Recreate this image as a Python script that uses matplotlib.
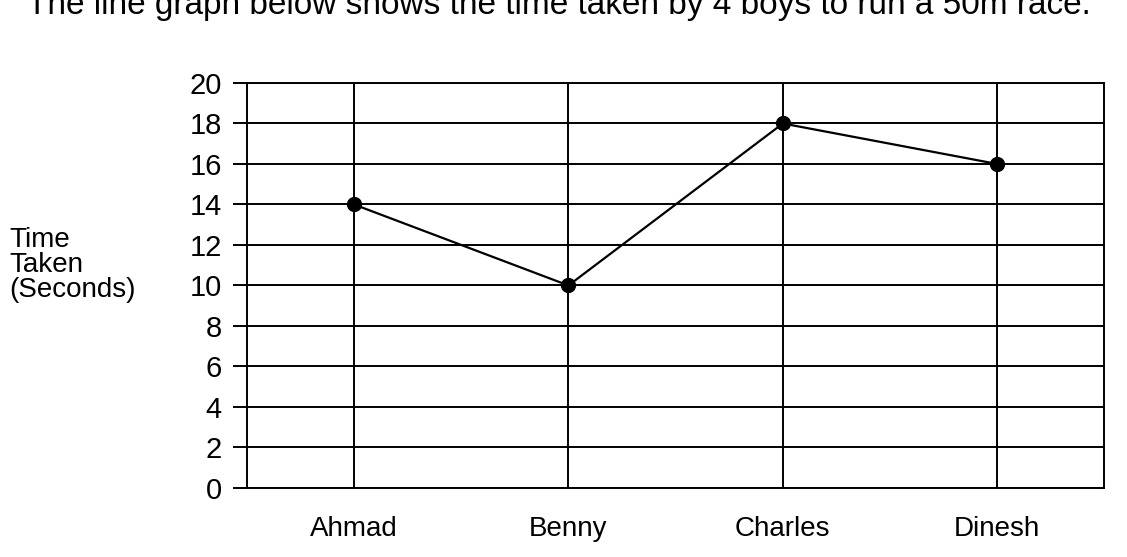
import matplotlib.pyplot as plt

plt.rcParams['font.family'] = ['Liberation Sans', 'DejaVu Sans']

boys = ['Ahmad', 'Benny', 'Charles', 'Dinesh']
times = [14, 10, 18, 16]
y_ticks = list(range(0, 21, 2))
ylabel_lines = ['Time', 'Taken', '(Seconds)']

fig = plt.figure(figsize=(11.27, 5.57), dpi=100)
ax = fig.add_axes([0.219, 0.124, 0.761, 0.727])

x = [i + 0.5 for i in range(len(boys))]
ax.plot(x, times, color='black', lw=1.6, marker='o', markersize=10, zorder=3)

ax.set_xlim(0, len(boys))
ax.set_ylim(0, 20)
ax.set_yticks(y_ticks)
ax.set_xticks(x)
ax.set_xticklabels(boys, fontsize=20)
ax.tick_params(axis='y', labelsize=21, length=10, width=1.4, pad=8)
ax.tick_params(axis='x', length=0, pad=20)

ax.grid(True, color='black', lw=1.4)
for s in ax.spines.values():
    s.set_linewidth(1.4)

# y label written as three lines, left aligned outside the axes
for i, line in enumerate(ylabel_lines):
    fig.text(0.008, 1 - (240 + 25 * i) / 557, line, fontsize=20, ha='left', va='center')

fig.text(0.024, 0.975, 'The line graph below shows the time taken by 4 boys to run a 50m race.',
         fontsize=24, ha='left', va='baseline')

fig.savefig('out.png', dpi=100)
